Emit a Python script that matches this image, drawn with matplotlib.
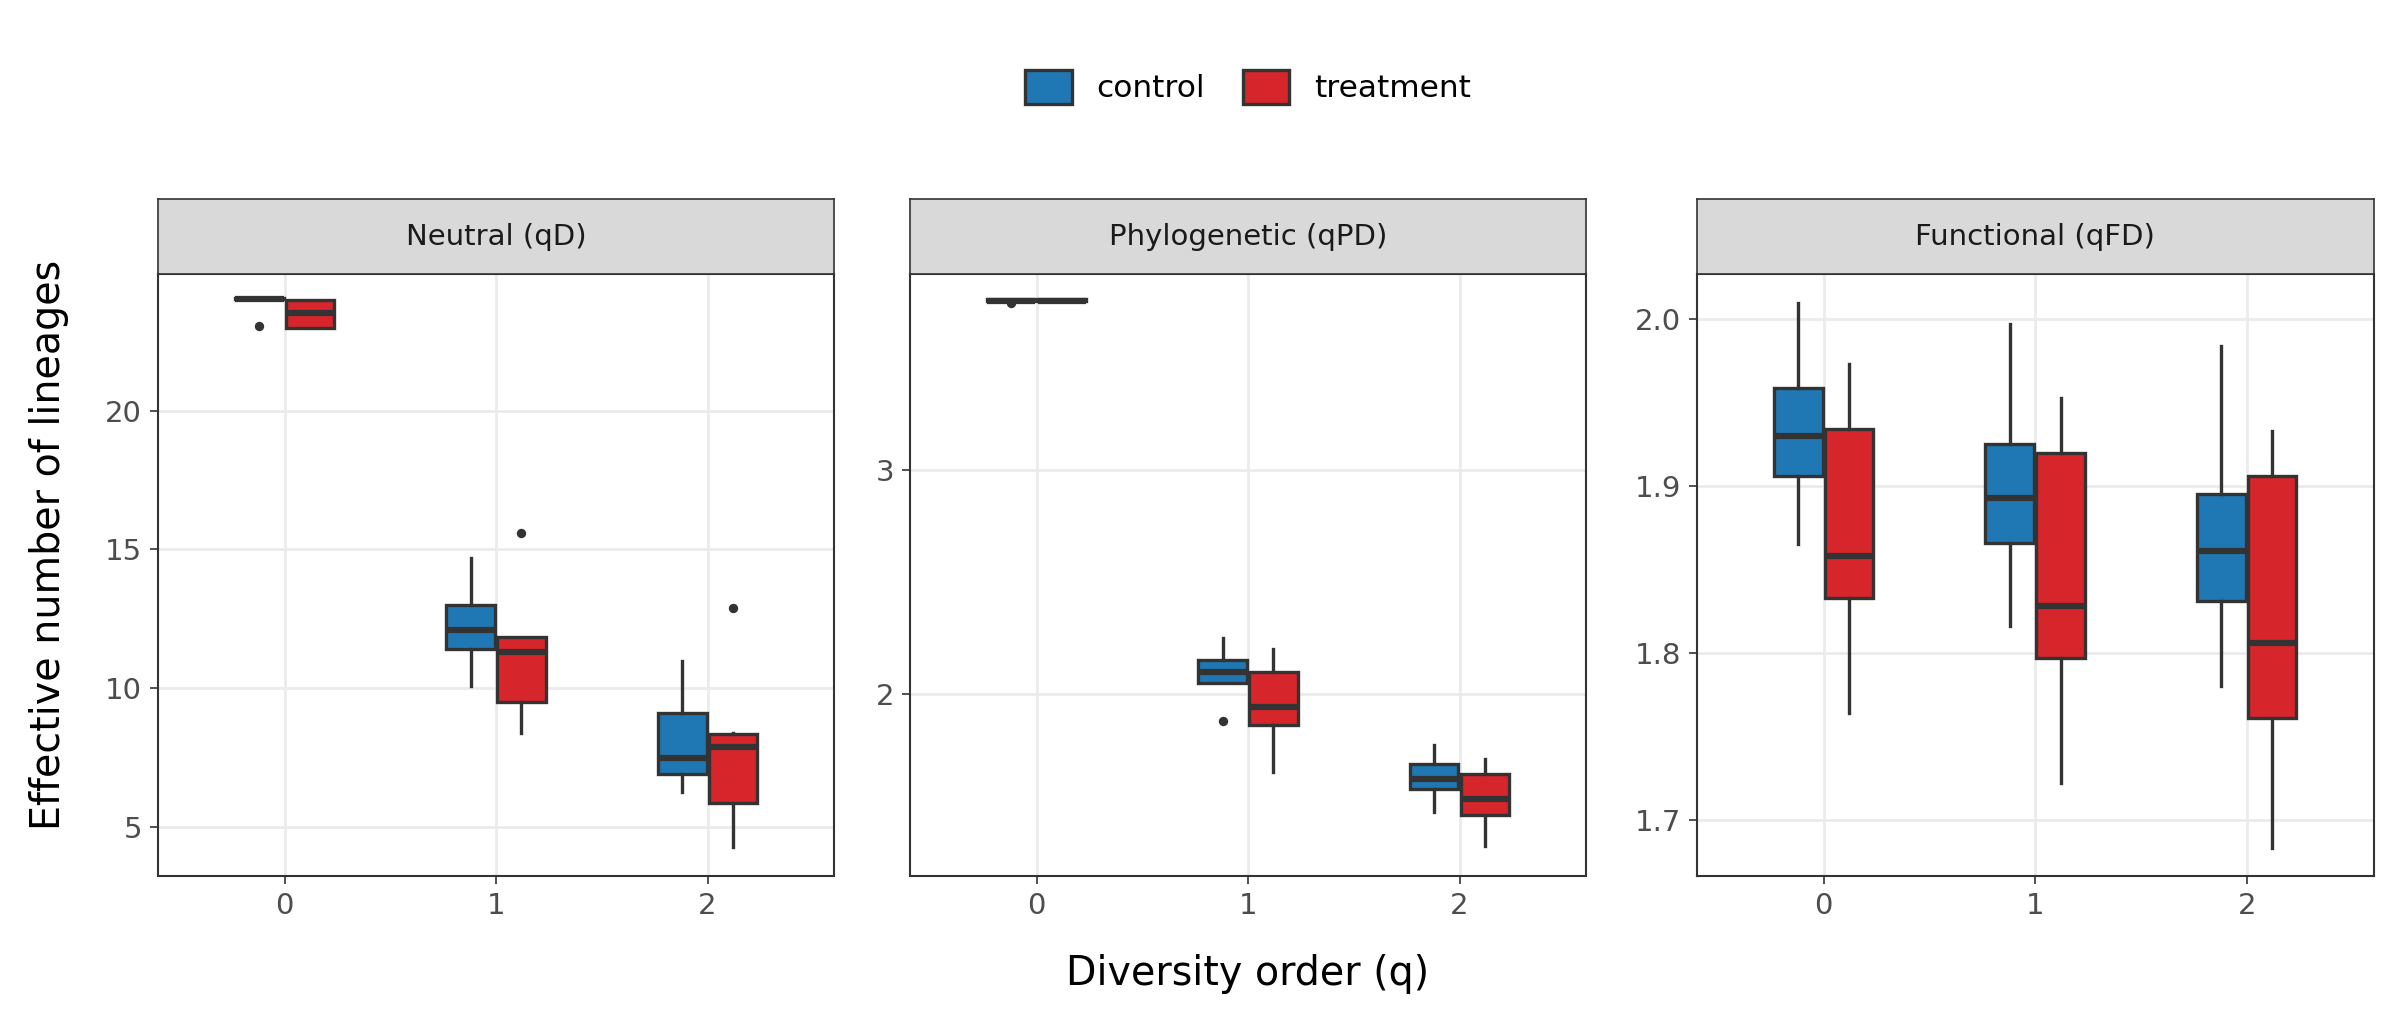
import matplotlib
matplotlib.use("Agg")
import matplotlib.pyplot as plt
from matplotlib.patches import Patch

plt.rcParams["font.family"] = "DejaVu Sans"

panels = ["Neutral (qD)", "Phylogenetic (qPD)", "Functional (qFD)"]
orders = [0, 1, 2]
groups = ["control", "treatment"]
colors = {"control": "#1f78b4", "treatment": "#d7262b"}

# per panel, per group: lists over orders of (whislo, q1, med, q3, whishi, fliers)
neutral_control = [(24.0, 24.0, 24.0, 24.05, 24.05, [23.03]),
                   (10.1, 11.4, 12.1, 13.0, 14.7, []),
                   (6.27, 6.93, 7.5, 9.13, 11.0, [])]
neutral_treatment = [(22.98, 22.98, 23.5, 23.97, 23.97, []),
                     (8.4, 9.52, 11.3, 11.84, 11.84, [15.6]),
                     (4.28, 5.88, 7.9, 8.37, 8.4, [12.9])]
phylo_control = [(3.76, 3.76, 3.76, 3.765, 3.765, [3.75]),
                 (2.05, 2.05, 2.10, 2.15, 2.25, [1.88]),
                 (1.47, 1.575, 1.62, 1.685, 1.77, [])]
phylo_treatment = [(3.76, 3.76, 3.76, 3.765, 3.765, []),
                   (1.65, 1.86, 1.94, 2.10, 2.20, []),
                   (1.32, 1.46, 1.53, 1.64, 1.71, [])]
func_control = [(1.865, 1.906, 1.930, 1.959, 2.010, []),
                (1.816, 1.866, 1.893, 1.925, 1.997, []),
                (1.780, 1.831, 1.861, 1.895, 1.984, [])]
func_treatment = [(1.764, 1.833, 1.858, 1.934, 1.973, []),
                  (1.722, 1.797, 1.828, 1.920, 1.953, []),
                  (1.683, 1.761, 1.806, 1.906, 1.933, [])]

data = [(neutral_control, neutral_treatment),
        (phylo_control, phylo_treatment),
        (func_control, func_treatment)]
ylims = [(3.24, 24.9), (1.185, 3.877), (1.666, 2.027)]
yticks = [[5, 10, 15, 20], [2, 3], [1.7, 1.8, 1.9, 2.0]]
yticklabels = [["5", "10", "15", "20"], ["2", "3"], ["1.7", "1.8", "1.9", "2.0"]]

fig = plt.figure(figsize=(16, 6.8), dpi=150)
lefts = [0.0657, 0.379, 0.707]
bottom, height, width = 0.141, 0.590, 0.282
strip_h = 0.0736
ec = "#333333"

for i, (name, (ctrl, trt)) in enumerate(zip(panels, data)):
    ax = fig.add_axes([lefts[i], bottom, width, height])
    for g, series, off in [("control", ctrl, -0.12), ("treatment", trt, 0.12)]:
        stats = []
        for q, s in zip(orders, series):
            lo, q1, med, q3, hi, fl = s
            stats.append(dict(whislo=lo, q1=q1, med=med, q3=q3, whishi=hi, fliers=fl))
        ax.bxp(stats, positions=[q + off for q in orders], widths=0.23,
               patch_artist=True, showcaps=False,
               boxprops=dict(facecolor=colors[g], edgecolor=ec, linewidth=1.6),
               medianprops=dict(color=ec, linewidth=3),
               whiskerprops=dict(color=ec, linewidth=1.6),
               flierprops=dict(marker="o", markerfacecolor=ec, markeredgecolor=ec, markersize=3.5))
    ax.set_xlim(-0.6, 2.6)
    ax.set_ylim(*ylims[i])
    ax.set_xticks(orders)
    ax.set_xticklabels([str(q) for q in orders])
    ax.set_yticks(yticks[i])
    ax.set_yticklabels(yticklabels[i])
    ax.grid(True, color="#ebebeb", linewidth=1.3)
    ax.set_axisbelow(True)
    for sp in ax.spines.values():
        sp.set_color(ec)
        sp.set_linewidth(1.0)
    ax.tick_params(labelsize=14, colors="#4d4d4d", length=4, color=ec)
    # facet strip
    sax = fig.add_axes([lefts[i], bottom + height, width, strip_h])
    sax.set_facecolor("#d9d9d9")
    sax.set_xticks([])
    sax.set_yticks([])
    for sp in sax.spines.values():
        sp.set_color(ec)
    sax.text(0.5, 0.5, name, ha="center", va="center", fontsize=14, color="#1a1a1a",
             transform=sax.transAxes)

fig.text(0.012, bottom + height / 2 + 0.03, "Effective number of lineages", rotation=90,
         ha="left", va="center", fontsize=19)
fig.text(0.52, 0.045, "Diversity order (q)", ha="center", va="center", fontsize=19)

handles = [Patch(facecolor=colors[g], edgecolor=ec, linewidth=1.6) for g in groups]
fig.legend(handles, groups, loc="center", bbox_to_anchor=(0.52, 0.915), ncol=2,
           frameon=False, fontsize=15, handlelength=1.5, handleheight=1.3, columnspacing=1.2)

fig.savefig("out.png", dpi=150, facecolor="white")
